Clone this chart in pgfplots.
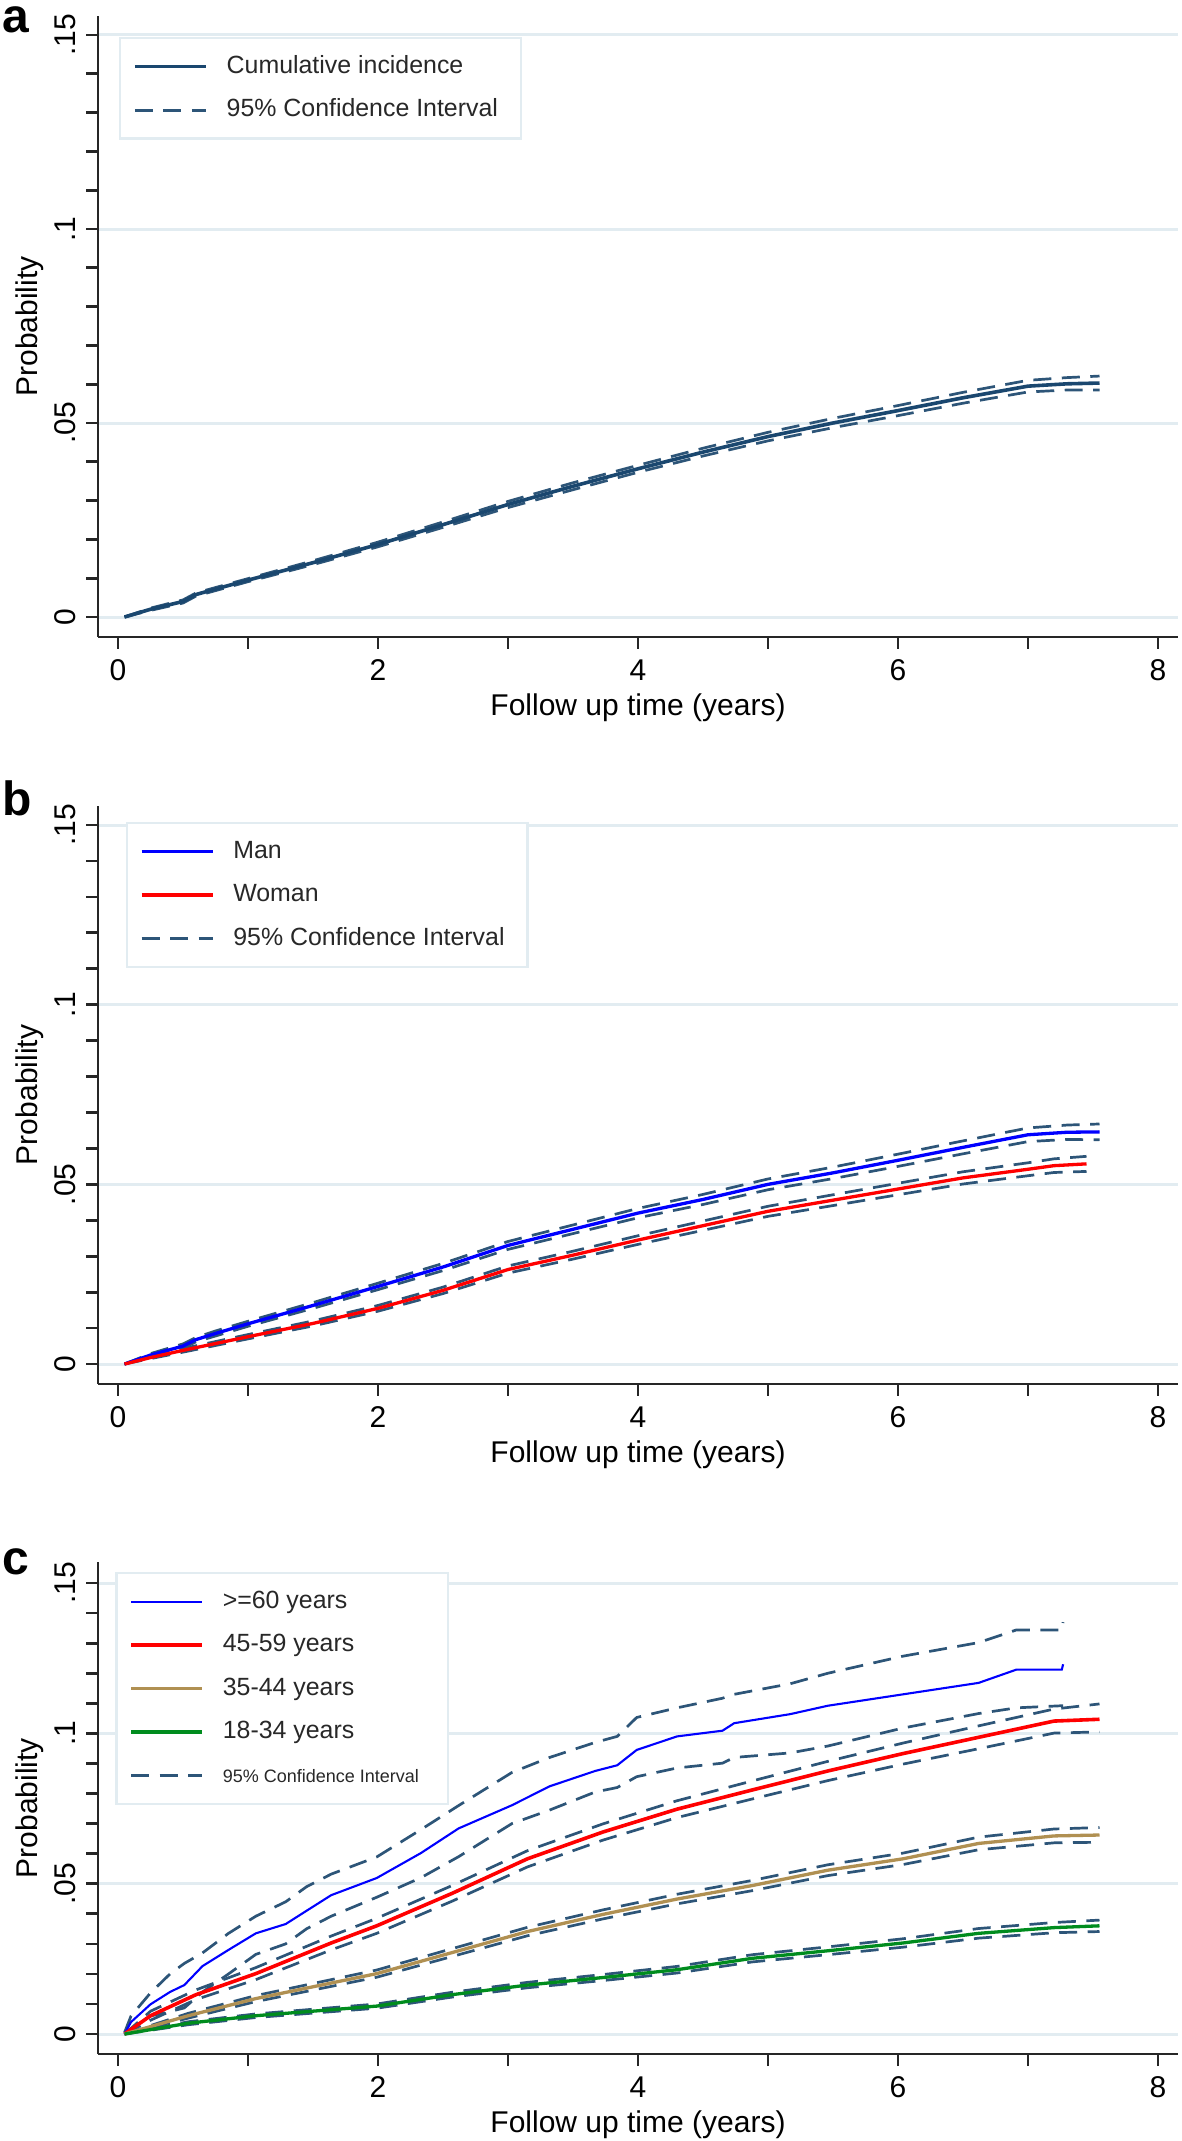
\documentclass[border=0pt]{standalone}
\usepackage{fontspec}
\setmainfont{Liberation Sans}
\usepackage{pgfplots}
\usepackage{pgfplotstable}
\pgfplotsset{compat=1.18}

\definecolor{stnavy}{RGB}{26,71,111}
\definecolor{cinavy}{RGB}{45,85,120}
\definecolor{gridc}{RGB}{226,236,241}
\definecolor{sand}{RGB}{176,144,82}
\definecolor{stgreen}{RGB}{0,140,30}
\definecolor{legtext}{RGB}{40,40,40}

% panel a: overall cumulative incidence
\pgfplotstableread{
t y lo hi
0.05 0.0000 0.0000 0.0000
0.25 0.0020 0.0017 0.0023
0.50 0.0040 0.0036 0.0044
0.60 0.0058 0.0054 0.0062
0.75 0.0072 0.0068 0.0076
1.00 0.0095 0.0091 0.0099
1.50 0.0140 0.0135 0.0145
2.00 0.0187 0.0181 0.0193
2.50 0.0238 0.0231 0.0245
3.00 0.0290 0.0282 0.0298
3.50 0.0337 0.0328 0.0346
4.00 0.0382 0.0373 0.0391
4.50 0.0425 0.0415 0.0435
5.00 0.0465 0.0454 0.0476
5.50 0.0500 0.0488 0.0512
6.00 0.0532 0.0519 0.0545
6.50 0.0565 0.0551 0.0579
7.00 0.0595 0.0580 0.0610
7.30 0.0601 0.0585 0.0617
7.55 0.0603 0.0585 0.0621
}\tabAll

% panel b: by sex
\pgfplotstableread{
t y lo hi
0.05 0.0000 0.0000 0.0000
0.25 0.0025 0.0021 0.0029
0.50 0.0050 0.0044 0.0056
0.60 0.0068 0.0062 0.0074
0.75 0.0085 0.0078 0.0092
1.00 0.0112 0.0105 0.0119
1.50 0.0163 0.0155 0.0171
2.00 0.0216 0.0207 0.0225
2.50 0.0270 0.0260 0.0280
3.00 0.0330 0.0319 0.0341
3.50 0.0375 0.0363 0.0387
4.00 0.0420 0.0407 0.0433
4.50 0.0458 0.0444 0.0472
5.00 0.0500 0.0485 0.0515
5.50 0.0532 0.0516 0.0548
6.00 0.0567 0.0550 0.0584
6.50 0.0603 0.0585 0.0621
7.00 0.0638 0.0619 0.0657
7.30 0.0645 0.0625 0.0665
7.55 0.0646 0.0624 0.0668
}\tabMan

\pgfplotstableread{
t y lo hi
0.05 0.0000 0.0000 0.0000
0.25 0.0018 0.0015 0.0021
0.50 0.0038 0.0033 0.0043
1.00 0.0076 0.0070 0.0082
1.50 0.0113 0.0106 0.0120
2.00 0.0155 0.0147 0.0163
2.50 0.0205 0.0196 0.0214
3.00 0.0263 0.0253 0.0273
3.50 0.0303 0.0292 0.0314
4.00 0.0345 0.0333 0.0357
4.50 0.0385 0.0372 0.0398
5.00 0.0425 0.0411 0.0439
5.50 0.0456 0.0441 0.0471
6.00 0.0487 0.0471 0.0503
6.50 0.0518 0.0501 0.0535
7.00 0.0542 0.0524 0.0560
7.20 0.0552 0.0533 0.0571
7.45 0.0557 0.0536 0.0578
}\tabWoman

% panel c: by age group
\pgfplotstableread{
t y lo hi
0.05 0.0000 0.0000 0.0005
0.10 0.0040 0.0012 0.0060
0.25 0.0099 0.0060 0.0137
0.40 0.0140 0.0075 0.0200
0.51 0.0163 0.0087 0.0235
0.65 0.0226 0.0140 0.0270
0.85 0.0280 0.0200 0.0335
1.06 0.0335 0.0265 0.0392
1.29 0.0366 0.0300 0.0440
1.45 0.0410 0.0350 0.0490
1.64 0.0462 0.0392 0.0532
1.99 0.0519 0.0455 0.0589
2.33 0.0602 0.0520 0.0680
2.62 0.0684 0.0590 0.0760
3.03 0.0761 0.0700 0.0870
3.32 0.0824 0.0745 0.0920
3.67 0.0875 0.0805 0.0970
3.84 0.0894 0.0820 0.0990
3.99 0.0945 0.0856 0.1053
4.30 0.0990 0.0885 0.1085
4.65 0.1009 0.0901 0.1117
4.74 0.1034 0.0920 0.1130
5.17 0.1064 0.0935 0.1165
5.46 0.1092 0.0958 0.1200
6.04 0.1130 0.1018 0.1257
6.62 0.1168 0.1066 0.1302
6.91 0.1212 0.1085 0.1344
7.26 0.1212 0.1092 0.1344
7.27 0.1230 0.1092 0.1370
}\tabOld

\pgfplotstableread{
t y lo hi
0.05 0.0000 0.0000 0.0000
0.25 0.0061 0.0046 0.0076
0.60 0.0131 0.0115 0.0147
1.06 0.0201 0.0181 0.0221
1.64 0.0303 0.0280 0.0326
1.99 0.0360 0.0335 0.0385
2.57 0.0468 0.0442 0.0494
3.15 0.0583 0.0556 0.0610
3.73 0.0672 0.0645 0.0699
4.30 0.0748 0.0720 0.0776
4.88 0.0812 0.0782 0.0842
5.46 0.0875 0.0843 0.0907
6.04 0.0933 0.0898 0.0968
6.62 0.0987 0.0949 0.1025
7.20 0.1041 0.1001 0.1081
7.55 0.1047 0.1005 0.1098
}\tabMid

\pgfplotstableread{
t y lo hi
0.05 0.0000 0.0000 0.0000
0.54 0.0061 0.0053 0.0069
1.06 0.0118 0.0108 0.0128
1.99 0.0201 0.0189 0.0213
2.57 0.0271 0.0258 0.0284
3.15 0.0341 0.0327 0.0355
3.73 0.0398 0.0383 0.0413
4.30 0.0449 0.0433 0.0465
4.88 0.0494 0.0477 0.0511
5.46 0.0545 0.0527 0.0563
6.04 0.0583 0.0564 0.0602
6.62 0.0634 0.0613 0.0655
7.20 0.0659 0.0636 0.0682
7.55 0.0662 0.0638 0.0687
}\tabYoungMid

\pgfplotstableread{
t y lo hi
0.05 0.0000 0.0000 0.0000
0.54 0.0036 0.0031 0.0041
1.06 0.0061 0.0055 0.0067
1.99 0.0093 0.0086 0.0100
2.57 0.0131 0.0123 0.0139
3.15 0.0163 0.0154 0.0172
3.73 0.0188 0.0178 0.0198
4.30 0.0214 0.0203 0.0225
4.88 0.0252 0.0240 0.0264
5.46 0.0277 0.0264 0.0290
6.04 0.0303 0.0289 0.0317
6.62 0.0335 0.0319 0.0351
7.20 0.0354 0.0337 0.0371
7.55 0.0360 0.0341 0.0379
}\tabYoung

\pgfplotsset{
  ci/.style={cinavy, line width=0.9pt, dash pattern=on 6pt off 3.5pt},
  stata/.style={
    scale only axis, width=360pt,
    xmin=-0.154, xmax=8.154,
    axis lines=left,
    axis line style={-, line width=0.9pt, black!85},
    xtick={0,1,...,8}, xticklabels={0,,2,,4,,6,,8},
    ytick={0,0.05,0.1,0.15}, yticklabels={0,.05,.1,.15},
    minor ytick={0.01,0.02,0.03,0.04,0.06,0.07,0.08,0.09,0.11,0.12,0.13,0.14},
    tick align=outside, major tick length=4pt, minor tick length=4pt,
    every tick/.style={black!85, line width=0.9pt},
    ymajorgrids, major grid style={gridc, line width=1pt},
    tick label style={font=\fontsize{10}{12}\selectfont, black},
    yticklabel style={rotate=90, anchor=south},
    label style={font=\fontsize{10}{12}\selectfont, black},
    xlabel={Follow up time (years)}, ylabel={Probability},
    xlabel style={at={(axis description cs:0.5,0)}, anchor=center, yshift=-23.7pt},
    ylabel style={at={(axis description cs:-0.063,0.5)}, anchor=center},
    legend cell align=left,
    legend image code/.code={\draw[#1] (0pt,0pt) -- (23.7pt,0pt);},
    legend style={at={(0,1)}, anchor=north west,
      draw=gridc, line width=0.8pt, fill=white,
      inner xsep=4.3pt, inner ysep=4.5pt, row sep=4.5pt,
      font=\fontsize{8.3}{10}\selectfont, text=legtext,
      nodes={inner xsep=0pt, inner ysep=1pt, text height=6.2pt, text depth=1.8pt},
      /tikz/every odd column/.append style={column sep=6.3pt}},
  }
}

\begin{document}
\begin{tikzpicture}
\useasboundingbox (0,0) rectangle (393.67pt,-713.67pt);

% ---------- a ----------
\node[anchor=base west, inner sep=0pt, font=\fontsize{16}{18}\selectfont\bfseries] at (0.5pt,-10.8pt) {a};
\begin{axis}[stata, at={(32.67pt,-212.33pt)}, anchor=south west,
  height=207pt, ymin=-0.00515, ymax=0.1549,
  legend style={xshift=7pt, yshift=-7pt}]
\addlegendimage{stnavy, line width=1.2pt}
\addlegendentry{\makebox[93.7pt][l]{Cumulative incidence}}
\addlegendimage{ci}
\addlegendentry{\makebox[93.7pt][l]{95\% Confidence Interval}}
\addplot[ci, forget plot] table[x=t, y=lo] {\tabAll};
\addplot[ci, forget plot] table[x=t, y=hi] {\tabAll};
\addplot[stnavy, line width=1.2pt, forget plot] table[x=t, y=y] {\tabAll};
\end{axis}

% ---------- b ----------
\node[anchor=base west, inner sep=0pt, font=\fontsize{16}{18}\selectfont\bfseries] at (0.5pt,-272pt) {b};
\begin{axis}[stata, at={(32.67pt,-461.33pt)}, anchor=south west,
  height=192.67pt, ymin=-0.00556, ymax=0.1553,
  legend style={xshift=9.3pt, yshift=-5.3pt}]
\addlegendimage{blue, line width=1.1pt}
\addlegendentry{\makebox[93.7pt][l]{Man}}
\addlegendimage{red, line width=1.1pt}
\addlegendentry{\makebox[93.7pt][l]{Woman}}
\addlegendimage{ci}
\addlegendentry{\makebox[93.7pt][l]{95\% Confidence Interval}}
\addplot[ci, forget plot] table[x=t, y=lo] {\tabMan};
\addplot[ci, forget plot] table[x=t, y=hi] {\tabMan};
\addplot[ci, forget plot] table[x=t, y=lo] {\tabWoman};
\addplot[ci, forget plot] table[x=t, y=hi] {\tabWoman};
\addplot[blue, line width=1.1pt, forget plot] table[x=t, y=y] {\tabMan};
\addplot[red, line width=1.1pt, forget plot] table[x=t, y=y] {\tabWoman};
\end{axis}

% ---------- c ----------
\node[anchor=base west, inner sep=0pt, font=\fontsize{16}{18}\selectfont\bfseries] at (0.5pt,-524.67pt) {c};
\begin{axis}[stata, at={(32.67pt,-684.67pt)}, anchor=south west,
  height=164pt, ymin=-0.00664, ymax=0.157,
  legend style={xshift=5.7pt, yshift=-3.3pt}]
\addlegendimage{blue, line width=0.7pt}
\addlegendentry{\makebox[70.7pt][l]{>=60 years}}
\addlegendimage{red, line width=1.2pt}
\addlegendentry{\makebox[70.7pt][l]{45-59 years}}
\addlegendimage{sand, line width=1.1pt}
\addlegendentry{\makebox[70.7pt][l]{35-44 years}}
\addlegendimage{stgreen, line width=1.1pt}
\addlegendentry{\makebox[70.7pt][l]{18-34 years}}
\addlegendimage{ci}
\addlegendentry{\makebox[70.7pt][l]{\fontsize{6}{7}\selectfont 95\% Confidence Interval}}
\addplot[ci, forget plot] table[x=t, y=lo] {\tabOld};
\addplot[ci, forget plot] table[x=t, y=hi] {\tabOld};
\addplot[ci, forget plot] table[x=t, y=lo] {\tabMid};
\addplot[ci, forget plot] table[x=t, y=hi] {\tabMid};
\addplot[ci, forget plot] table[x=t, y=lo] {\tabYoungMid};
\addplot[ci, forget plot] table[x=t, y=hi] {\tabYoungMid};
\addplot[ci, forget plot] table[x=t, y=lo] {\tabYoung};
\addplot[ci, forget plot] table[x=t, y=hi] {\tabYoung};
\addplot[blue, line width=0.7pt, forget plot] table[x=t, y=y] {\tabOld};
\addplot[red, line width=1.2pt, forget plot] table[x=t, y=y] {\tabMid};
\addplot[sand, line width=1.1pt, forget plot] table[x=t, y=y] {\tabYoungMid};
\addplot[stgreen, line width=1.1pt, forget plot] table[x=t, y=y] {\tabYoung};
\end{axis}
\end{tikzpicture}
\end{document}
